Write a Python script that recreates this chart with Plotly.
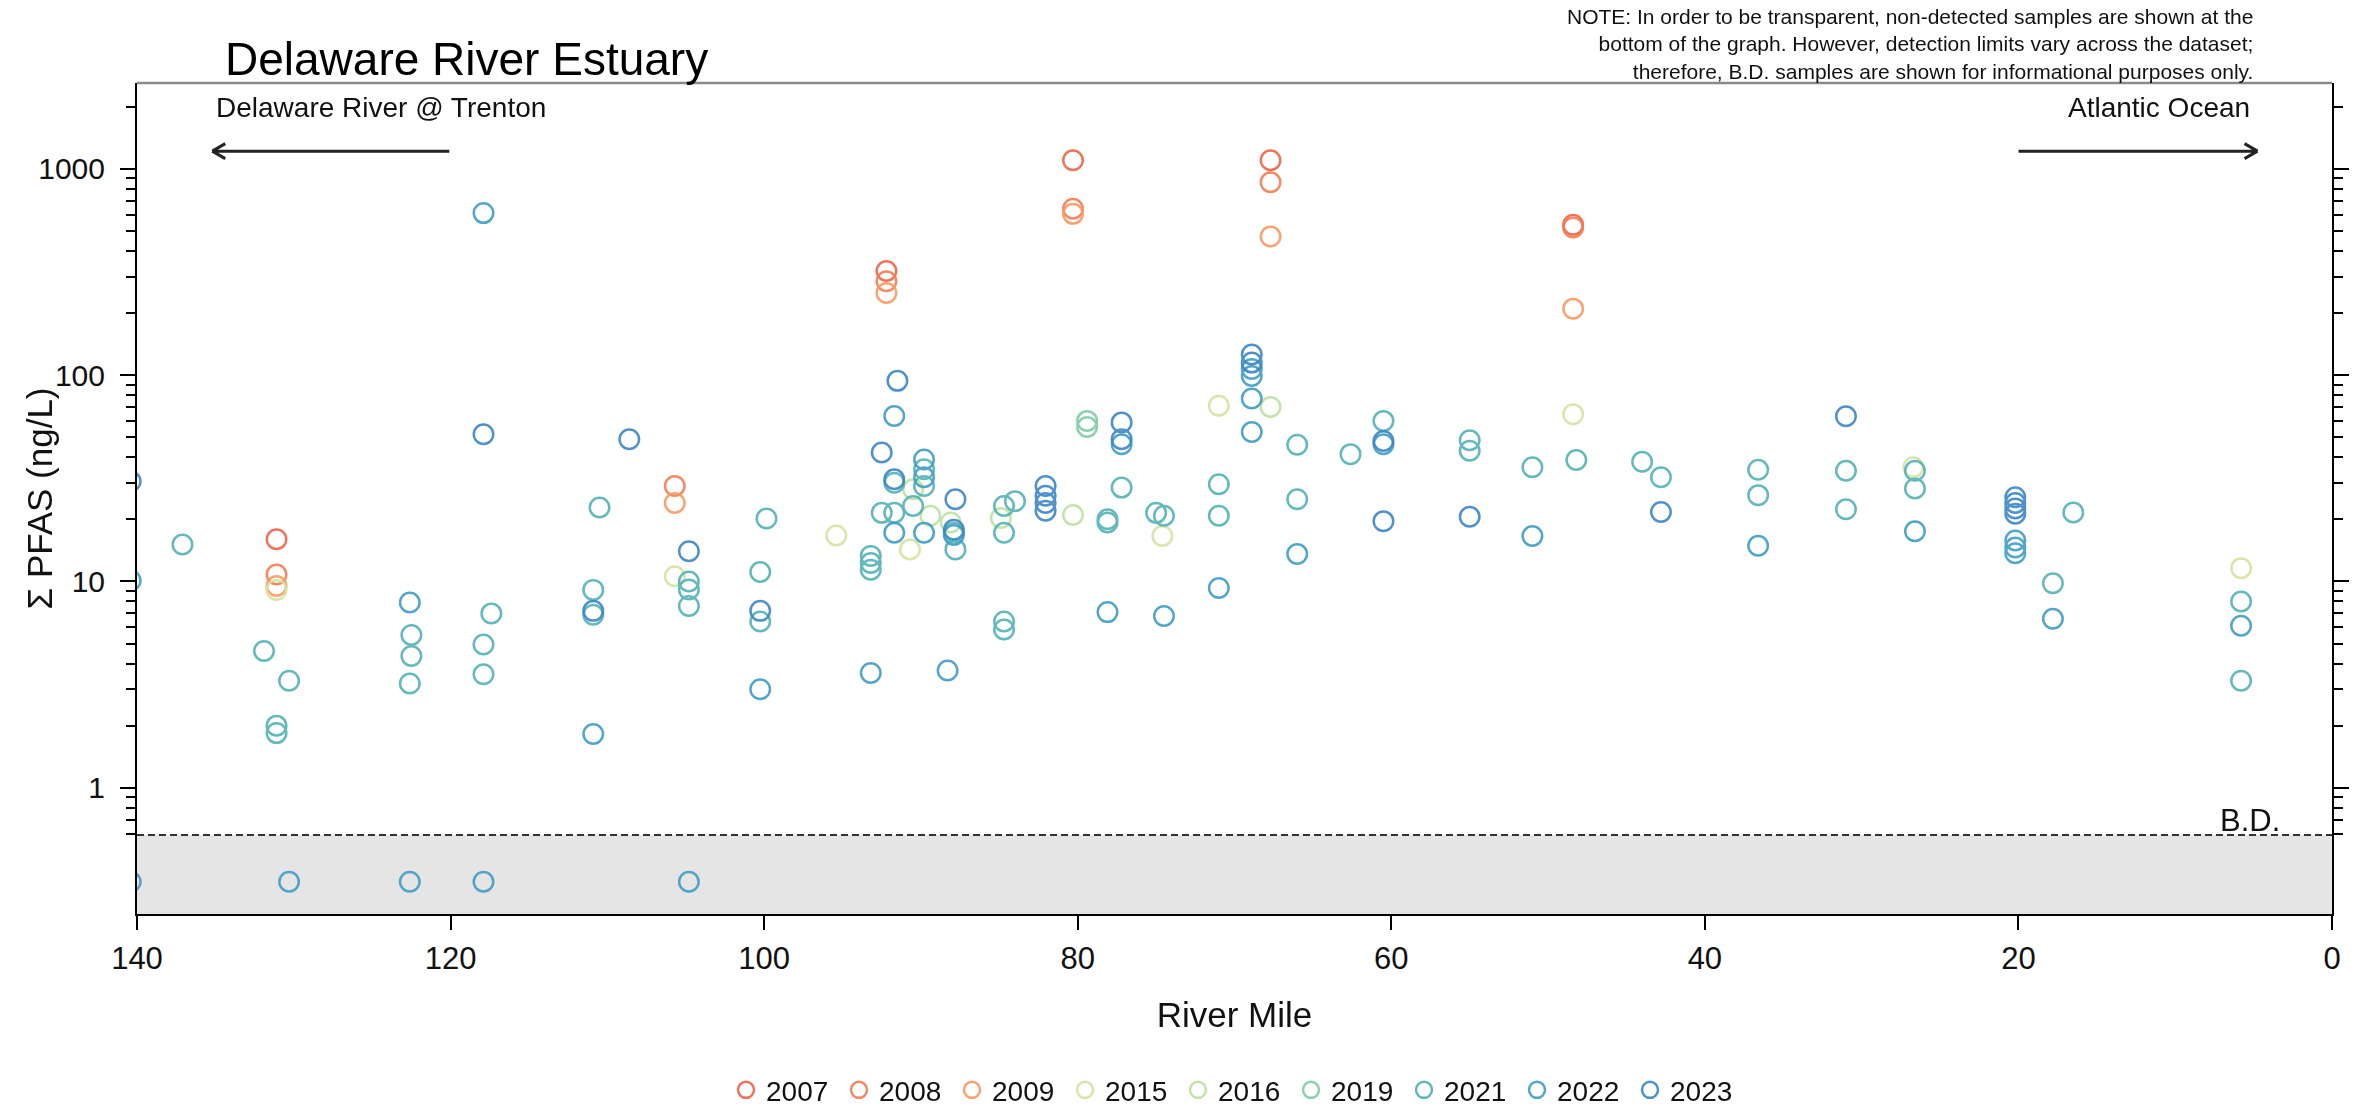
import plotly.graph_objects as go
import numpy as np

# ---------------- data (river mile, sum PFAS ng/L) ----------------
years = ["2007", "2008", "2009", "2015", "2016", "2019", "2021", "2022", "2023"]
year_colors = ["#EE6445", "#F37C52", "#F79A63", "#D6E2A0", "#BEE0A2",
               "#80CBA6", "#52B2B4", "#3F9EC3", "#3B86C6"]

mile_2007 = [131.1, 92.2, 80.3, 67.7, 48.4]
pfas_2007 = [16.0, 320, 1100, 1100, 535]

mile_2008 = [131.1, 105.7, 92.2, 80.3, 67.7, 48.4]
pfas_2008 = [10.8, 29.0, 285, 640, 860, 520]

mile_2009 = [131.1, 105.7, 92.2, 80.3, 67.7, 48.4]
pfas_2009 = [9.5, 24.0, 250, 605, 470, 210]

mile_2015 = [131.1, 105.7, 95.4, 90.7, 74.6, 71.0, 48.4, 26.7, 5.8]
pfas_2015 = [9.1, 10.6, 16.7, 14.3, 16.6, 71, 64.7, 35.8, 11.6]

mile_2016 = [90.5, 89.4, 88.1, 84.9, 80.3, 67.7]
pfas_2016 = [28.0, 20.8, 19.3, 20.3, 21.0, 70]

mile_2019 = [79.4, 79.4]
pfas_2019 = [60, 56]

mile_2021 = [137.1, 131.9, 130.3, 131.1, 131.1, 122.5, 122.5, 122.6, 117.4, 117.9,
             117.9, 110.5, 110.9, 110.9, 104.8, 104.8, 104.8, 99.85, 100.25, 100.25,
             93.2, 93.2, 93.2, 92.5, 91.7, 90.5, 91.7, 89.8, 89.8, 87.8,
             87.9, 84.7, 84.0, 84.7, 84.7, 84.7, 78.1, 78.1, 77.2, 75.0,
             74.5, 71.0, 71.0, 66.0, 66.0, 62.6, 60.5, 55.0, 55.0, 51.0,
             48.2, 44.0, 42.8, 36.6, 36.6, 31.0, 31.0, 26.6, 26.6, 16.5,
             17.8, 5.8, 5.8]
pfas_2021 = [15.1, 4.6, 3.3, 2.0, 1.84, 5.5, 4.35, 3.2, 7.0, 4.95,
             3.55, 22.8, 9.1, 6.9, 10.0, 9.15, 7.6, 20.2, 11.1, 6.4,
             13.3, 12.3, 11.4, 21.5, 21.5, 23.2, 30.1, 35, 29, 14.3,
             17.2, 23.2, 24.5, 17.2, 6.4, 5.85, 20.0, 19.3, 28.5, 21.5,
             20.8, 29.6, 20.8, 46, 25, 41.4, 60, 48.3, 43, 35.8,
             38.8, 38, 32, 34.8, 26.2, 34.4, 22.4, 34.4, 28.2, 21.6,
             9.8, 8.0, 3.3]

mile_2022 = [140.4, 122.6, 117.9, 110.9, 100.25, 93.2, 91.7, 91.7, 89.8, 89.8,
             89.8, 88.3, 87.9, 78.1, 74.5, 71.0, 68.9, 68.9, 68.9, 68.9,
             66.0, 60.5, 51.0, 36.6, 26.6, 20.2, 20.2, 20.2, 17.8, 5.8, 77.2]
pfas_2022 = [10.1, 7.9, 610, 1.82, 3.0, 3.6, 63.4, 17.2, 39, 32,
             17.2, 3.7, 16.8, 7.1, 6.8, 9.3, 107, 99, 77, 53,
             13.6, 46.2, 16.6, 14.9, 17.5, 15.8, 14.6, 13.7, 6.6, 6.1, 46.2]

mile_2023 = [140.4, 117.9, 108.6, 110.9, 104.8, 100.25, 92.5, 91.5, 91.7, 87.8,
             87.9, 82.05, 82.05, 82.05, 82.05, 77.2, 77.2, 68.9, 68.9, 60.5,
             60.5, 55.0, 42.8, 31.0, 20.2, 20.2, 20.2, 20.2]
pfas_2023 = [30.6, 51.7, 48.9, 7.2, 14.0, 7.2, 42.2, 93.8, 31.3, 25.0,
             17.8, 29, 26, 24, 22, 59, 48.9, 126, 115, 47.9,
             19.6, 20.6, 21.7, 63.2, 25.6, 24.0, 22.6, 21.3]

# below-detection samples (plotted in the B.D. band), 2022 survey
bd_miles = [140.4, 130.3, 122.6, 117.9, 104.8]
bd_plot_value = 0.35
bd_limit = 0.59

x_ticks = [0, 20, 40, 60, 80, 100, 120, 140]
y_ticks = [1, 10, 100, 1000]
y_ticktext = ["1", "10", "100", "1000"]
y_minor = [0.6, 0.7, 0.8, 0.9] + [d * m for m in (1, 10, 100) for d in range(2, 10)] + [2000]

series_miles = [mile_2007, mile_2008, mile_2009, mile_2015, mile_2016, mile_2019,
                mile_2021, mile_2022 + bd_miles, mile_2023]
series_pfas = [pfas_2007, pfas_2008, pfas_2009, pfas_2015, pfas_2016, pfas_2019,
               pfas_2021, pfas_2022 + [bd_plot_value] * len(bd_miles), pfas_2023]

# ---------------- figure ----------------
Y_RANGE = [-0.612, 3.416]
FONT = "Liberation Sans, Arial, Helvetica, sans-serif"

fig = go.Figure()
for yr, col, xs, ys in zip(years, year_colors, series_miles, series_pfas):
    fig.add_trace(go.Scatter(
        x=xs, y=ys, mode="markers", name=yr,
        marker=dict(symbol="circle-open", size=19.5, color=col,
                    line=dict(width=2.5, color=col)),
        opacity=0.9, cliponaxis=True,
    ))

bd_frac = (np.log10(bd_limit) - Y_RANGE[0]) / (Y_RANGE[1] - Y_RANGE[0])

shapes = [
    # B.D. band
    dict(type="rect", xref="paper", yref="paper", x0=0, x1=1, y0=0, y1=bd_frac,
         fillcolor="#E5E5E5", line=dict(width=0), layer="below"),
    dict(type="line", xref="paper", yref="paper", x0=0, x1=1, y0=bd_frac, y1=bd_frac,
         line=dict(color="#333333", width=2, dash="7px,4px")),
    # grey top frame line
    dict(type="line", xref="paper", yref="paper", x0=0, x1=1, y0=1, y1=1,
         line=dict(color="#8A8A8A", width=2.5)),
    # arrow towards Trenton (left)
    dict(type="path", xref="x", xsizemode="pixel", xanchor=135.2,
         yref="paper", ysizemode="pixel", yanchor=0.918,
         path="M 0,0 L 237,0 M 0,0 L 13,7.5 M 0,0 L 13,-7.5",
         line=dict(color="#222222", width=3)),
    # arrow towards Atlantic Ocean (right)
    dict(type="path", xref="x", xsizemode="pixel", xanchor=4.75,
         yref="paper", ysizemode="pixel", yanchor=0.918,
         path="M 0,0 L -239,0 M 0,0 L -13,7.5 M 0,0 L -13,-7.5",
         line=dict(color="#222222", width=3)),
]

annotations = [
    dict(text="Delaware River Estuary", xref="paper", yref="paper",
         x=0.0392, y=1.0289, xanchor="left", yanchor="middle", showarrow=False,
         font=dict(size=46, color="black", family=FONT)),
    dict(text="Delaware River @ Trenton", xref="paper", yref="paper",
         x=0.0351, y=0.971, xanchor="left", yanchor="middle", showarrow=False,
         font=dict(size=28, color="#111111", family=FONT)),
    dict(text="Atlantic Ocean", xref="paper", yref="paper",
         x=0.9636, y=0.971, xanchor="right", yanchor="middle", showarrow=False,
         font=dict(size=28, color="#111111", family=FONT)),
    dict(text="NOTE: In order to be transparent, non-detected samples are shown at the<br>"
              "bottom of the graph. However, detection limits vary across the dataset;<br>"
              "therefore, B.D. samples are shown for informational purposes only.",
         xref="paper", yref="paper", x=0.965, y=1.096, xanchor="right", yanchor="top",
         align="right", showarrow=False,
         font=dict(size=21, color="#111111", family=FONT)),
    dict(text="B.D.", xref="paper", yref="paper", x=0.9772, y=bd_frac,
         xanchor="right", yanchor="bottom", yshift=-5, showarrow=False,
         font=dict(size=31, color="#111111", family=FONT)),
    dict(text="\u03a3 PFAS (ng/L)", xref="paper", yref="paper",
         x=-0.0442, y=0.5, xanchor="center", yanchor="middle", textangle=-90,
         showarrow=False, font=dict(size=35, color="#111111", family=FONT)),
]

fig.update_layout(
    width=2362, height=1108,
    margin=dict(l=137, r=30, t=83, b=194, autoexpand=False),
    paper_bgcolor="white", plot_bgcolor="white",
    font=dict(family=FONT, color="#111111", size=28),
    shapes=shapes, annotations=annotations,
    showlegend=True,
    legend=dict(orientation="h", x=0.5, xanchor="center", y=-0.212, yanchor="middle",
                font=dict(size=28, family=FONT, color="#111111"),
                entrywidth=68, entrywidthmode="pixels",
                itemsizing="trace", bgcolor="rgba(0,0,0,0)"),
)

fig.update_xaxes(
    range=[140, 0], tickmode="array", tickvals=x_ticks,
    ticks="outside", ticklen=14, tickwidth=2, tickcolor="black",
    showline=True, linecolor="black", linewidth=2, mirror=False,
    showgrid=False, zeroline=False, ticklabelstandoff=2,
    tickfont=dict(size=31, family=FONT, color="#111111"),
    title=dict(text="River Mile", font=dict(size=35, family=FONT, color="#111111"), standoff=27),
)

fig.update_yaxes(
    type="log", range=Y_RANGE, tickmode="array", tickvals=y_ticks, ticktext=y_ticktext,
    ticks="outside", ticklen=15, tickwidth=2, tickcolor="black",
    showline=True, linecolor="black", linewidth=2, mirror="allticks",
    showgrid=False, zeroline=False, ticklabelstandoff=9,
    tickfont=dict(size=30, family=FONT, color="#111111"),
    minor=dict(tickmode="array", tickvals=y_minor, ticks="outside", ticklen=9,
               tickwidth=1.5, tickcolor="black", showgrid=False),
)

fig.write_html("out.html", config={"displayModeBar": False},
               post_script="document.body.style.margin='0';")
